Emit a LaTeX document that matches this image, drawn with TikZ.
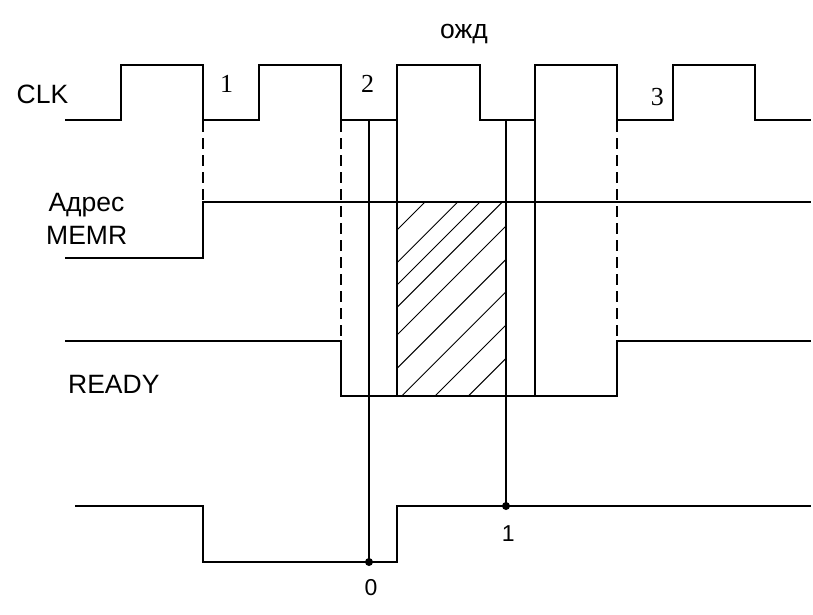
\documentclass[tikz,border=0pt]{standalone}
\usepackage{fontspec}
\setmainfont{Liberation Serif}
\newfontfamily\sanslbl{Liberation Sans}
\newfontfamily\seriflbl{Liberation Serif}
\begin{document}
\begin{tikzpicture}[x=1pt,y=-1pt,
  sig/.style={line width=1.2pt, line join=miter},
  guide/.style={line width=2.2pt, dash pattern=on 11pt off 6pt},
  hatchline/.style={line width=1pt},
  lbl/.style={font=\sanslbl\fontsize{26.5}{30}\selectfont, anchor=base, inner sep=0pt},
  num/.style={font=\seriflbl\fontsize{26}{30}\selectfont, anchor=base, inner sep=0pt},
  smallnum/.style={font=\sanslbl\fontsize{23}{26}\selectfont, anchor=base, inner sep=0pt},
  dot/.style={circle, fill=black, inner sep=0pt, minimum size=8pt}]
\useasboundingbox (0,0) rectangle (813,615);
\fill[white] (0,0) rectangle (813,615);

% hatching
\begin{scope}
  \clip (397,202.5) rectangle (506,396);
  \foreach \c in {627,659.7,682,704.3,732,765.3,797.7,831,864.3}
    \draw[hatchline] (\c-420,420) -- (\c-180,180);
\end{scope}

% CLK
\draw[sig] (65,120) -- (121,120) -- (121,65) -- (203,65) -- (203,120) -- (259,120) -- (259,65) -- (341,65) -- (341,120) -- (397,120) -- (397,65) -- (480,65) -- (480,120) -- (535,120) -- (535,65) -- (617,65) -- (617,120) -- (673,120) -- (673,65) -- (755,65) -- (755,120) -- (811,120);
% Address / MEMR
\draw[sig] (65,258) -- (203,258) -- (203,202) -- (811,202);
% READY
\draw[sig] (65,341) -- (341,341) -- (341,396) -- (617,396) -- (617,341) -- (811,341);
% bottom signal
\draw[sig] (75,506) -- (203,506) -- (203,562) -- (397,562) -- (397,506) -- (811,506);

% dashed guides
\draw[guide] (203,121) -- (203,202);
\draw[guide] (341,121) -- (341,341);
\draw[guide] (617,121) -- (617,341);

% vertical lines
\draw[sig] (369,120) -- (369,562);
\draw[sig] (397,120) -- (397,396);
\draw[sig] (506,120) -- (506,506);
\draw[sig] (535,120) -- (535,396);

% dots
\node[dot] (d0) at (369,562) {};
\node[dot] (d1) at (506,506) {};

% labels
\node[lbl] (clk) at (42.5,103.3) {CLK};
\node[lbl] (ozhd) at (464,39) {ожд};
\node[num] (n1) at (226.7,92.7) {1};
\node[num] (n2) at (367.7,92.7) {2};
\node[num] (n3) at (657.3,106) {3};
\node[lbl] (adr) at (86.5,211.7) {Адрес};
\node[lbl] (memr) at (86.7,244.3) {MEMR};
\node[lbl] (ready) at (113.8,393.3) {READY};
\node[smallnum] (z0) at (371,595.7) {0};
\node[smallnum] (z1) at (508.3,541) {1};
\end{tikzpicture}
\end{document}
